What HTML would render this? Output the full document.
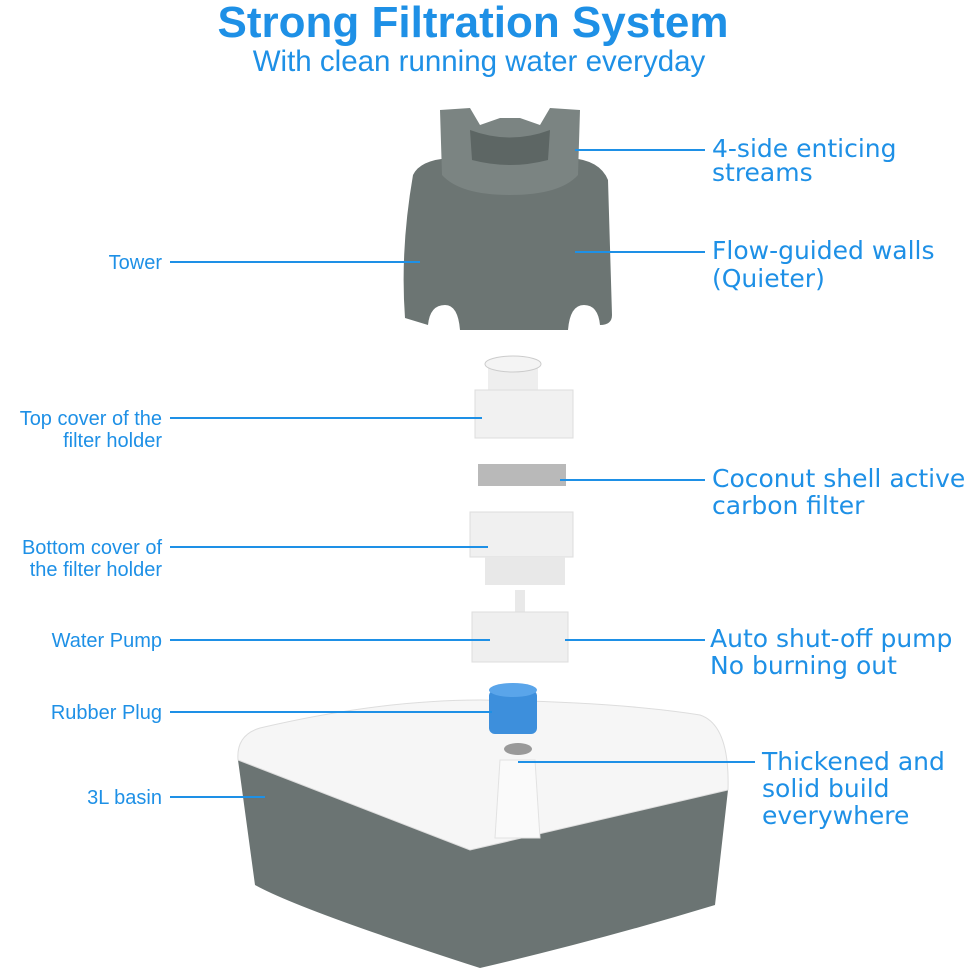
<!DOCTYPE html>
<html><head><style>
body{margin:0;width:967px;height:980px;background:#fff;overflow:hidden;font-family:"Liberation Sans",sans-serif}
svg{position:absolute;left:0;top:0}
</style></head><body>
<svg width="967" height="980" viewBox="0 0 967 980">
<g font-family="Liberation Sans, sans-serif" fill="#1e90e6">
<text x="473" y="37" font-size="44" font-weight="bold" text-anchor="middle">Strong Filtration System</text>
<text x="479" y="71" font-size="29.5" text-anchor="middle">With clean running water everyday</text>
</g>
<!-- tower -->
<path d="M413 175 Q420 160 450 158 L570 158 Q600 160 608 180 L612 315 Q612 325 600 325 Q598 305 584 305 Q570 305 568 330 L460 330 Q458 305 445 305 Q430 305 428 325 L405 318 Q400 250 413 175Z" fill="#6c7573"/>
<path d="M440 110 L470 108 L480 125 L500 118 L520 118 L540 125 L550 108 L580 110 L578 175 Q560 195 510 195 Q460 195 442 175Z" fill="#7b8482"/>
<path d="M470 130 Q510 145 550 130 L548 160 Q510 170 472 160Z" fill="#5d6664"/>
<!-- top cover -->
<rect x="488" y="362" width="50" height="30" fill="#eee"/>
<ellipse cx="513" cy="364" rx="28" ry="8" fill="#f4f4f4" stroke="#ccc"/>
<rect x="475" y="390" width="98" height="48" fill="#f1f1f1" stroke="#ddd"/>
<!-- carbon -->
<rect x="478" y="464" width="88" height="22" fill="#b9b9b9"/>
<!-- bottom cover -->
<rect x="470" y="512" width="103" height="45" fill="#f0f0f0" stroke="#ddd"/>
<rect x="485" y="557" width="80" height="28" fill="#e8e8e8"/>
<!-- pump -->
<rect x="515" y="590" width="10" height="25" fill="#e9e9e9"/>
<rect x="472" y="612" width="96" height="50" fill="#efefef" stroke="#ddd"/>
<!-- basin -->
<path d="M238 760 L470 848 L728 790 L715 905 Q600 940 480 968 Q300 910 255 885Z" fill="#6b7473"/>
<path d="M238 760 Q236 735 260 728 Q380 700 480 700 Q620 702 700 715 Q730 725 728 790 L470 850Z" fill="#f6f6f6" stroke="#ddd"/>
<path d="M500 760 L535 760 L540 838 L495 838Z" fill="#fafafa" stroke="#e2e2e2"/>
<ellipse cx="518" cy="749" rx="14" ry="6" fill="#999"/>
<rect x="489" y="690" width="48" height="44" rx="6" fill="#3d8fdc"/>
<ellipse cx="513" cy="690" rx="24" ry="7" fill="#5aa5ea"/>
<!-- lines -->
<g stroke="#1e90e6" stroke-width="2">
<line x1="170" y1="262" x2="420" y2="262"/>
<line x1="170" y1="418" x2="482" y2="418"/>
<line x1="170" y1="547" x2="488" y2="547"/>
<line x1="170" y1="640" x2="490" y2="640"/>
<line x1="170" y1="712" x2="492" y2="712"/>
<line x1="170" y1="797" x2="265" y2="797"/>
<line x1="575" y1="150" x2="705" y2="150"/>
<line x1="575" y1="252" x2="705" y2="252"/>
<line x1="560" y1="480" x2="705" y2="480"/>
<line x1="565" y1="640" x2="705" y2="640"/>
<line x1="518" y1="762" x2="755" y2="762"/>
</g>
<g font-family="Liberation Sans, sans-serif" fill="#1e90e6" font-size="20" text-anchor="end">
<text x="162" y="269">Tower</text>
<text x="162" y="425">Top cover of the</text>
<text x="162" y="447">filter holder</text>
<text x="162" y="554">Bottom cover of</text>
<text x="162" y="576">the filter holder</text>
<text x="162" y="647">Water Pump</text>
<text x="162" y="719">Rubber Plug</text>
<text x="162" y="804">3L basin</text>
</g>
<g font-family="DejaVu Sans, sans-serif" fill="#1e90e6" font-size="25">
<text x="712" y="157">4-side enticing</text>
<text x="712" y="181">streams</text>
<text x="712" y="259">Flow-guided walls</text>
<text x="712" y="287">(Quieter)</text>
<text x="712" y="487">Coconut shell active</text>
<text x="712" y="514">carbon filter</text>
<text x="710" y="647">Auto shut-off pump</text>
<text x="710" y="674">No burning out</text>
<text x="762" y="770">Thickened and</text>
<text x="762" y="797">solid build</text>
<text x="762" y="824">everywhere</text>
</g>
</svg>
</body></html>
